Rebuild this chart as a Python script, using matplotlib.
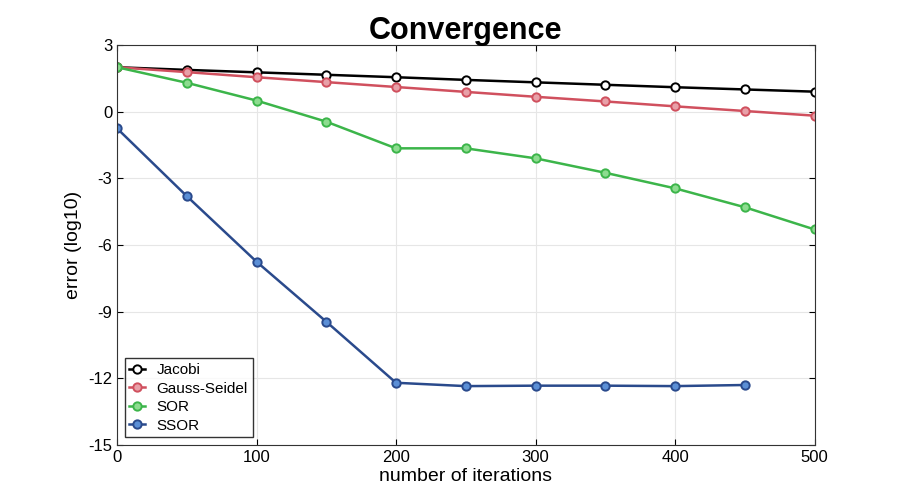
import matplotlib
matplotlib.use("Agg")
import matplotlib.pyplot as plt

plt.rcParams['font.family'] = ['Liberation Sans', 'DejaVu Sans']
plt.rcParams['axes.unicode_minus'] = False

iters = [0, 50, 100, 150, 200, 250, 300, 350, 400, 450, 500]
jacobi = [2.0, 1.88, 1.77, 1.66, 1.55, 1.43, 1.32, 1.21, 1.10, 1.0, 0.9]
gauss_seidel = [2.0, 1.78, 1.55, 1.33, 1.11, 0.89, 0.67, 0.46, 0.24, 0.03, -0.18]
sor = [2.0, 1.3, 0.5, -0.45, -1.65, -1.65, -2.1, -2.75, -3.45, -4.3, -5.3]
ssor_iters = iters[:10]
ssor = [-0.75, -3.8, -6.75, -9.45, -12.2, -12.35, -12.33, -12.33, -12.35, -12.3]

fig = plt.figure(figsize=(9, 5), dpi=100)
ax = fig.add_axes([0.13, 0.11, 0.775, 0.80])

series = [
    (iters, jacobi, 'Jacobi', 'black', 'white'),
    (iters, gauss_seidel, 'Gauss-Seidel', '#d0505e', '#e8a0a8'),
    (iters, sor, 'SOR', '#3cb54a', '#8ddc8f'),
    (ssor_iters, ssor, 'SSOR', '#2a4a8c', '#5b8fd6'),
]
for x, y, name, col, face in series:
    ax.plot(x, y, '-o', color=col, markerfacecolor=face, markeredgecolor=col,
            linewidth=1.8, markersize=6, markeredgewidth=1.4, label=name)

ax.set_xlim(0, 500)
ax.set_ylim(-15, 3)
ax.set_xticks(range(0, 501, 100))
ax.set_yticks(range(-15, 4, 3))
ax.grid(True, color='#e6e6e6', linewidth=0.8)
for s in ax.spines.values():
    s.set_color('#333333')
ax.tick_params(labelsize=12, direction='in', length=4, top=True, right=True)
ax.set_xlabel('number of iterations', fontsize=14, labelpad=2)
ax.set_ylabel('error (log10)', fontsize=14)
ax.set_title('Convergence', fontsize=22, fontweight='bold', pad=4)
ax.legend(loc='lower left', fontsize=11, fancybox=False, edgecolor='black',
          handlelength=1.0, borderpad=0.3, labelspacing=0.3)

fig.savefig('out.png', dpi=100)
